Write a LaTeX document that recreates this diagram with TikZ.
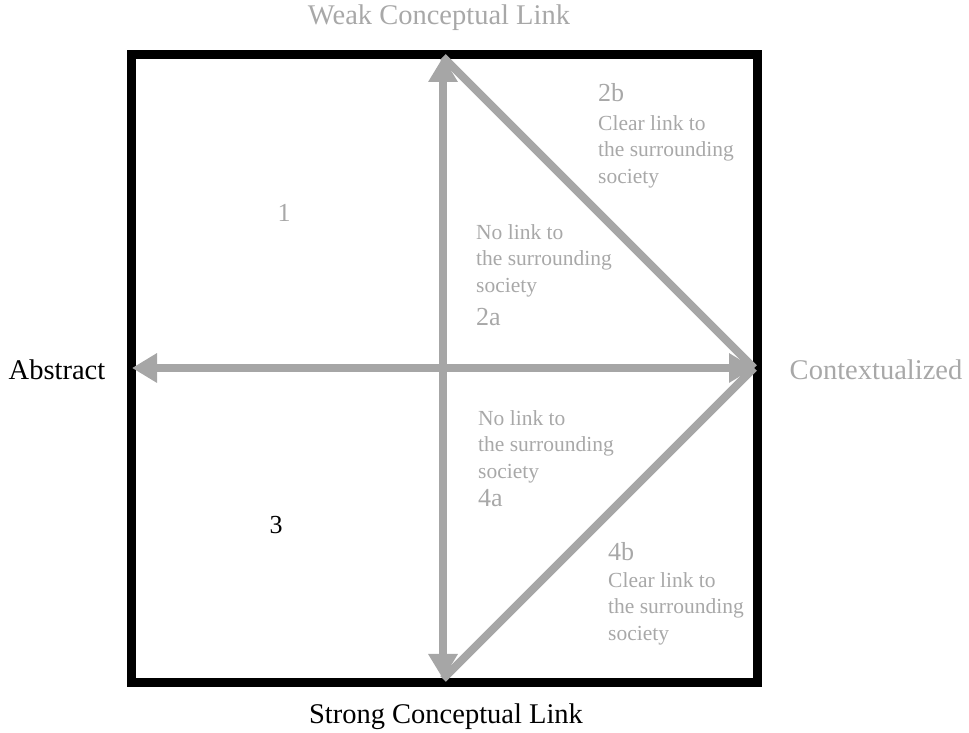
\documentclass[tikz,border=0pt]{standalone}
\usepackage{fontspec}
\setmainfont{Liberation Serif}
\usetikzlibrary{arrows.meta}
\definecolor{axisgray}{RGB}{166,166,166}
\definecolor{textgray}{RGB}{168,168,168}
\begin{document}
\begin{tikzpicture}[x=1pt,y=1pt,
  axis/.style={draw=axisgray, line width=8pt, {Triangle[length=25pt,width=28pt]}-{Triangle[length=25pt,width=28pt]}},
  edge/.style={draw=axisgray, line width=8pt},
  big/.style={font=\fontsize{28.5}{31}\selectfont, inner sep=0pt},
  num/.style={font=\fontsize{26}{28}\selectfont, inner sep=0pt, text=textgray},
  desc/.style={font=\fontsize{21.5}{26.5}\selectfont, inner sep=0pt, text=textgray, align=left, anchor=north west}]
\useasboundingbox (0,0) rectangle (969,733);
\draw[line width=9pt] (131,50) rectangle (757,678);
\coordinate (top) at (443,676);
\coordinate (bot) at (443,54);
\coordinate (lft) at (132,365);
\coordinate (rgt) at (754,365);
\draw[axis] (bot) -- (top);
\draw[axis] (lft) -- (rgt);
\draw[edge] (top) -- (rgt);
\draw[edge] (rgt) -- (bot);
\node[big, text=textgray] (weak) at (439,715) {Weak Conceptual Link};
\node[big] (strong) at (446,16) {Strong Conceptual Link};
\node[big] (abstract) at (57,363) {Abstract};
\node[big, text=textgray] (context) at (876,363) {Contextualized};
\node[num] (q1) at (284,520) {1};
\node[num, text=black] (q3) at (276,208) {3};
\node[num, anchor=base west] (q2b) at (598,631) {2b};
\node[desc] (d2b) at (598,618) {Clear link to\\the surrounding\\society};
\node[desc] (d2a) at (476,509) {No link to\\the surrounding\\society};
\node[num, anchor=base west] (q2a) at (476,407) {2a};
\node[desc] (d4a) at (478,323) {No link to\\the surrounding\\society};
\node[num, anchor=base west] (q4a) at (478,226) {4a};
\node[num, anchor=base west] (q4b) at (608,172) {4b};
\node[desc] (d4b) at (608,161) {Clear link to\\the surrounding\\society};
\end{tikzpicture}
\end{document}
